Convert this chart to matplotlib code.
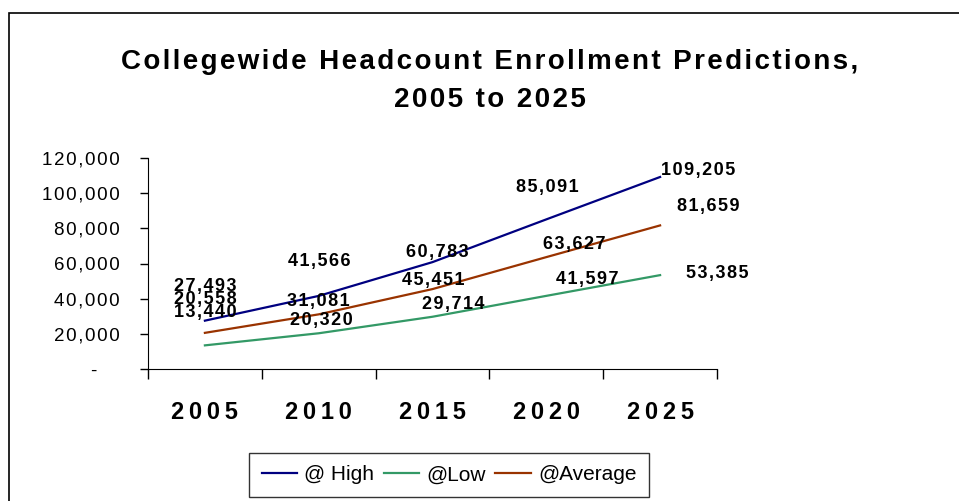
import matplotlib
matplotlib.use("Agg")
import matplotlib.pyplot as plt
from matplotlib.patches import Rectangle
from matplotlib.ticker import FuncFormatter

plt.rcParams['font.family'] = ['Liberation Sans', 'DejaVu Sans']

# andmed
aastad = ["2005", "2010", "2015", "2020", "2025"]
korge = [27493, 41566, 60783, 85091, 109205]
madal = [13440, 20320, 29714, 41597, 53385]
keskmine = [20558, 31081, 45451, 63627, 81659]

# siltide nihked pikslites (dx, dy)
nihe_korge = [(0, 34), (1, 34), (5, 10), (1, 32), (38, 6)]
nihe_madal = [(0, 33), (3, 13), (21, 12), (41, 16), (57, 2)]
nihe_keskm = [(0, 33), (0, 13), (1, 9), (28, 13), (48, 19)]


def hõre(tekst, vahe="\u200a"):
    # tähtede vahele õhuke tühik
    return vahe.join(tekst)


fig = plt.figure(figsize=(9.59, 5.01), dpi=100)
ax = fig.add_axes([148 / 959, 1 - 369 / 501, 569 / 959, 211 / 501])

xid = range(len(aastad))
ax.plot(xid, korge, color="#000080", lw=1.6, label="@ High")
ax.plot(xid, madal, color="#339966", lw=1.6, label="@Low")
ax.plot(xid, keskmine, color="#993300", lw=1.6, label="@Average")

for seeria, nihked in [(korge, nihe_korge), (madal, nihe_madal), (keskmine, nihe_keskm)]:
    for x, v, (dx, dy) in zip(xid, seeria, nihked):
        ax.annotate(hõre(f"{v:,}"), (x, v), xytext=(dx, dy), textcoords="offset pixels",
                    ha="center", va="center", fontsize=13, fontweight="bold")

ax.set_xlim(-0.5, 4.5)
ax.set_ylim(0, 120000)
ax.set_yticks(range(0, 120001, 20000))
ax.yaxis.set_major_formatter(FuncFormatter(
    lambda v, p: "-" + "\u2009" * 6 if v == 0 else hõre(f"{int(v):,}")))
ax.tick_params(axis="y", labelsize=13.5, length=6, width=1, pad=14.5)

ax.set_xticks(list(xid))
ax.set_xticklabels([hõre(a, "\u2009") for a in aastad], fontsize=17, fontweight="bold")
ax.set_xticks([i - 0.5 for i in range(6)], minor=True)
ax.tick_params(axis="x", which="major", length=0, pad=23)
ax.tick_params(axis="x", which="minor", length=7, width=1)

for s in ["top", "right"]:
    ax.spines[s].set_visible(False)

leg = fig.legend(loc="center", bbox_to_anchor=(449 / 959, 1 - 475 / 501), ncol=3,
                 fontsize=15, frameon=True, fancybox=False, edgecolor="black",
                 handlelength=1.7, handletextpad=0.35, columnspacing=0.45,
                 borderpad=0.6, borderaxespad=0)
leg.get_frame().set_linewidth(1)

fig.text(490 / 959, 1 - 62 / 501, hõre("Collegewide Headcount Enrollment Predictions,"),
         ha="center", va="center", fontsize=20, fontweight="bold")
fig.text(490 / 959, 1 - 100 / 501, hõre("2005 to 2025"),
         ha="center", va="center", fontsize=20, fontweight="bold")

# välimine raam
fig.patches.append(Rectangle((9 / 959, -0.1), 1.0, 1 - 13 / 501 + 0.1,
                             transform=fig.transFigure, fill=False,
                             edgecolor="black", lw=1.2))

fig.savefig("out.png", dpi=100)
